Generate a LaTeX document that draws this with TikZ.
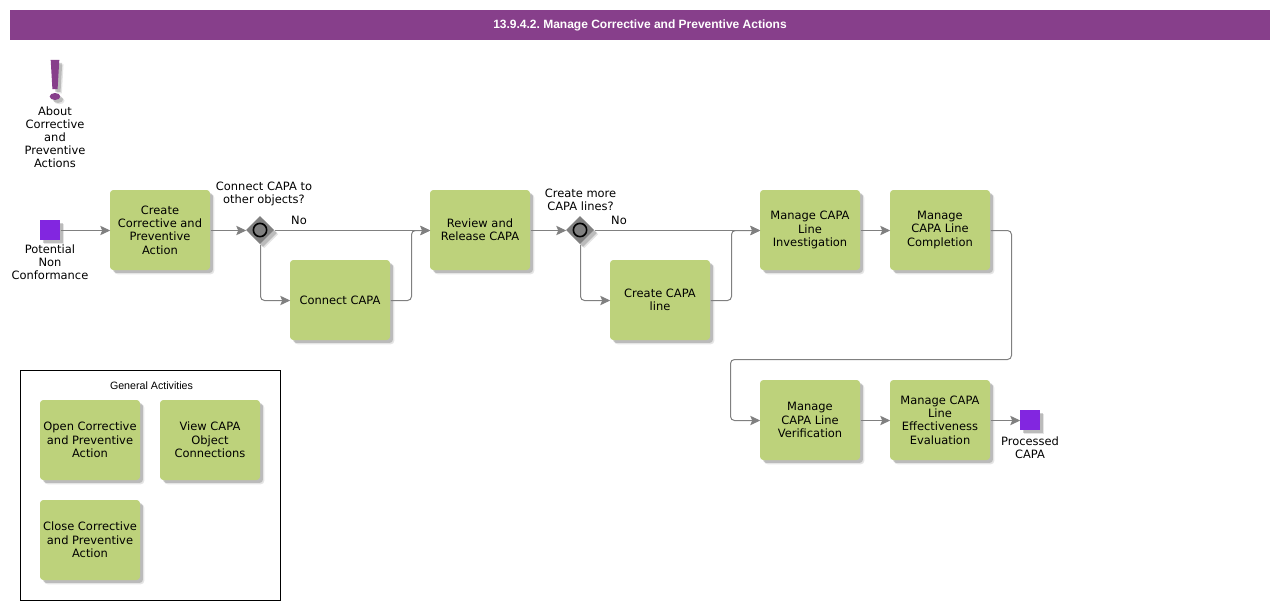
\documentclass[tikz,border=0pt]{standalone}
\usepackage{fontspec}
\setmainfont{DejaVu Sans}
\newfontfamily\headfont{Liberation Sans}
\usepackage{tikz}
\usetikzlibrary{arrows.meta,shapes.geometric,shadows}
\definecolor{titlepurple}{HTML}{873F8B}
\definecolor{squarepurple}{HTML}{8226E0}
\definecolor{taskgreen}{HTML}{BDD27B}
\definecolor{linegray}{HTML}{808080}

\begin{document}
\begin{tikzpicture}[
    x=0.75pt,y=-0.75pt,
    softshadow/.style={
        drop shadow={shadow xshift=3.2pt,shadow yshift=-3.2pt,fill=black,opacity=0.1},
        drop shadow={shadow xshift=2.2pt,shadow yshift=-2.2pt,fill=black,opacity=0.18}},
    task/.style={fill=taskgreen,rounded corners=2.5pt,align=center,minimum width=75pt,minimum height=60pt,inner sep=0pt,softshadow,font=\fontsize{8.6}{10}\selectfont},
    terminal/.style={fill=squarepurple,minimum size=15pt,inner sep=0pt,softshadow},
    gate/.style={shape=diamond,fill=linegray,minimum size=21pt,inner sep=0pt,softshadow},
    gatering/.style={shape=circle,draw=black,line width=1.2pt,fill=linegray,minimum size=10pt,inner sep=0pt},
    flow/.style={-{Stealth[length=7.5pt,width=7pt,inset=1.5pt]},draw=linegray,line width=0.75pt,rounded corners=3pt,transform canvas={shift={(0.5,0.5)}}},
    note/.style={align=center,inner sep=0pt,font=\fontsize{8.6}{9.75}\selectfont}
]
\useasboundingbox (0,0) rectangle (1280,610);
\fill[white] (0,0) rectangle (1280,610);

\node[fill=titlepurple,text=white,minimum width=945pt,minimum height=22.5pt,inner sep=0pt,font=\headfont\bfseries\fontsize{9}{11}\selectfont] (titlebar) at (640,25) {\frenchspacing 13.9.4.2. Manage Corrective and Preventive Actions};

% exclamation mark
\fill[titlepurple,softshadow] (50.7,60) -- (59.3,60) -- (57.6,89) -- (52.4,89) -- cycle;
\fill[titlepurple,softshadow] (55,96.5) ellipse [x radius=5.3,y radius=3.5];
\node[note] (about) at (55,137) {About\\Corrective\\and\\Preventive\\Actions};

% top row
\node[terminal] (start) at (50,230) {};
\node[note] (startlabel) at (50,262.5) {Potential\\Non\\Conformance};
\node[task] (create) at (160,230) {Create\\Corrective and\\Preventive\\Action};
\node[gate] (gateconnect) at (260,230) {};
\node[gatering] (ringconnect) at (gateconnect) {};
\node[note] (askconnect) at (264,194) {Connect CAPA to\\other objects?};
\node[note] (noconnect) at (299,220.5) {No};
\node[task] (connect) at (340,300) {Connect CAPA};
\node[task] (review) at (480,230) {Review and\\Release CAPA};
\node[gate] (gatelines) at (580,230) {};
\node[gatering] (ringlines) at (gatelines) {};
\node[note] (asklines) at (580.5,200) {Create more\\CAPA lines?};
\node[note] (nolines) at (619,220.5) {No};
\node[task] (createline) at (660,300) {Create CAPA\\line};
\node[task] (investigation) at (810,230) {Manage CAPA\\Line\\Investigation};
\node[task] (completion) at (940,230) {Manage\\CAPA Line\\Completion};

% bottom row
\node[task] (verification) at (810,420) {Manage\\CAPA Line\\Verification};
\node[task] (effectiveness) at (940,420) {Manage CAPA\\Line\\Effectiveness\\Evaluation};
\node[terminal] (finish) at (1030,420) {};
\node[note] (finishlabel) at (1030,448) {Processed\\CAPA};

% general activities
\node[draw=black,line width=0.75pt,minimum width=195pt,minimum height=172.5pt,inner sep=0pt] (general) at (150.5,485.5) {};
\node[note,font=\headfont\fontsize{8}{10}\selectfont] (generallabel) at (151.5,386) {General Activities};
\node[task] (open) at (90,440) {Open Corrective\\and Preventive\\Action};
\node[task] (view) at (210,440) {View CAPA\\Object\\Connections};
\node[task] (close) at (90,540) {Close Corrective\\and Preventive\\Action};

\draw[flow] (start) -- (create);
\draw[flow] (create) -- (gateconnect);
\draw[flow] (gateconnect) -- (review);
\draw[flow] (gateconnect) |- (connect);
\draw[flow] (connect) -- ++(71,0) |- (review);
\draw[flow] (review) -- (gatelines);
\draw[flow] (gatelines) -- (investigation);
\draw[flow] (gatelines) |- (createline);
\draw[flow] (createline) -- ++(71,0) |- (investigation);
\draw[flow] (investigation) -- (completion);
\draw[flow] (completion) -- ++(71,0) |- ++(-281,129) |- (verification);
\draw[flow] (verification) -- (effectiveness);
\draw[flow] (effectiveness) -- (finish);
\end{tikzpicture}
\end{document}
